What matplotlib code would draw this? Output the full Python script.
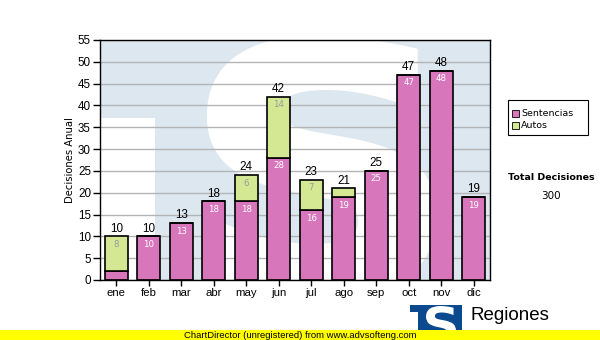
import matplotlib
matplotlib.use("Agg")
import matplotlib.pyplot as plt
from matplotlib.patches import Rectangle, PathPatch
from matplotlib.textpath import TextPath
from matplotlib.font_manager import FontProperties
from matplotlib.transforms import Affine2D

# ---- data ----
months = ["ene", "feb", "mar", "abr", "may", "jun", "jul", "ago", "sep", "oct", "nov", "dic"]
sentencias = [2, 10, 13, 18, 18, 28, 16, 19, 25, 47, 48, 19]
autos = [8, 0, 0, 0, 6, 14, 7, 2, 0, 0, 0, 0]
series_names = ["Sentencias", "Autos"]
yticks = list(range(0, 56, 5))
total_title = "Total Decisiones"

C_SENT = "#d776bb"
C_AUTO = "#d4e894"
C_BG = "#dde7f0"
C_GRID = "#b4b4b4"

W, H = 600, 340
fig = plt.figure(figsize=(6, 3.4), dpi=100)
fig.patch.set_facecolor("white")


def fx(px):
    return px / W


def fy(py):
    return 1 - py / H


ax = fig.add_axes([fx(100), fy(280), fx(490) - fx(100), fy(40) - fy(280)])
ax.set_facecolor(C_BG)
ax.set_xlim(-0.5, len(months) - 0.5)
ax.set_ylim(0, 55)
ax.set_axisbelow(True)

# watermark logo in the plot background: white cut under the T bar and a large white S
ax.add_patch(Rectangle((-0.5, 0), (155 - 100) / 32.5, 37.2, facecolor="white",
                       edgecolor="none", zorder=0.2))
sp = TextPath((0, 0), "S", size=1, prop=FontProperties(family="DejaVu Sans", weight="bold"))
ext = sp.get_extents()
x0, x1, ytop, ybot = 211, 432, 40, 294
tr = (Affine2D().translate(-ext.x0, -ext.y0)
      .scale((x1 - x0) / ext.width / W, (ybot - ytop) / ext.height / H)
      .translate(x0 / W, 1 - ybot / H)) + fig.transFigure
spatch = PathPatch(sp, facecolor="white", edgecolor="white", linewidth=6,
                   transform=tr, zorder=0.2)
ax.add_patch(spatch)
spatch.set_clip_path(ax.patch)

ax.yaxis.grid(True, color=C_GRID, linewidth=1.0, zorder=0.5)
ax.xaxis.grid(False)

x = list(range(len(months)))
totals = [s + a for s, a in zip(sentencias, autos)]
bw = 0.71
ax.bar(x, sentencias, width=bw, color=C_SENT, edgecolor="black", linewidth=1.2, zorder=2)
ax.bar(x, autos, width=bw, bottom=sentencias, color=C_AUTO, edgecolor="black",
       linewidth=1.2, zorder=2)

px_per_unit = 240 / 55.0
for i in x:
    ax.text(i, totals[i] + 1.8 / px_per_unit, str(totals[i]), ha="center", va="bottom",
            fontsize=8.4, family="Liberation Sans", color="black", zorder=3)
    if sentencias[i] > 3:
        ax.text(i, sentencias[i] - 3.5 / px_per_unit, str(sentencias[i]), ha="center",
                va="top", fontsize=6.2, family="DejaVu Sans", color="white", zorder=3)
    if autos[i] > 3:
        ax.text(i, totals[i] - 3.5 / px_per_unit, str(autos[i]), ha="center", va="top",
                fontsize=6.2, family="DejaVu Sans", color="#9a9a9a", zorder=3)

ax.set_xticks(x)
ax.set_xticklabels(months, fontsize=8.2, family="Liberation Sans")
ax.set_yticks(yticks)
ax.set_yticklabels([str(v) for v in yticks], fontsize=8.4, family="Liberation Sans")
ax.tick_params(axis="y", length=5, width=1, direction="out", pad=1.5)
ax.tick_params(axis="x", length=4, width=1, direction="out", pad=2)
for s in ax.spines.values():
    s.set_color("black")
    s.set_linewidth(1.0)
ax.set_ylabel("Decisiones Anual", fontsize=7.2, family="DejaVu Sans", labelpad=2)

# legend box
fig.add_artist(Rectangle((fx(508), fy(135)), fx(588) - fx(508), fy(100) - fy(135),
                         transform=fig.transFigure, facecolor="white", edgecolor="black",
                         linewidth=0.8))
for k, (name, col) in enumerate(zip(series_names, [C_SENT, C_AUTO])):
    yy = 113.5 + k * 12
    fig.add_artist(Rectangle((fx(512), fy(yy + 3.5)), 7 / W, 7 / H, transform=fig.transFigure,
                             facecolor=col, edgecolor="black", linewidth=0.6))
    fig.text(fx(521), fy(yy), name, fontsize=6.8, family="DejaVu Sans", va="center", ha="left")

fig.text(fx(551), fy(178), total_title, fontsize=6.8, family="DejaVu Sans", weight="bold",
         ha="center", va="center")
fig.text(fx(551), fy(196), str(sum(totals)), fontsize=7.5, family="DejaVu Sans",
         ha="center", va="center")

# footer: logo, name and banner
fig.add_artist(Rectangle((fx(410), fy(340)), 52 / W, 35 / H, transform=fig.transFigure,
                         facecolor="#0b4a8e", edgecolor="none"))
fig.add_artist(Rectangle((fx(410), fy(340)), 8 / W, 28 / H, transform=fig.transFigure,
                         facecolor="white", edgecolor="none"))
lp = TextPath((0, 0), "S", size=1, prop=FontProperties(family="DejaVu Sans", weight="bold"))
le = lp.get_extents()
ltr = (Affine2D().translate(-le.x0, -le.y0)
       .scale(30 / le.width / W, 36 / le.height / H)
       .translate(426 / W, 1 - 342 / H)) + fig.transFigure
fig.add_artist(PathPatch(lp, facecolor="white", edgecolor="none", transform=ltr))

fig.text(fx(470), fy(316), "Regiones", fontsize=13.5, family="Liberation Sans",
         ha="left", va="center")

fig.add_artist(Rectangle((0, 0), 1, fy(330), transform=fig.transFigure,
                         facecolor="#ffff00", edgecolor="none", zorder=5))
fig.text(fx(300), fy(335), "ChartDirector (unregistered) from www.advsofteng.com",
         fontsize=6.8, family="Liberation Sans", ha="center", va="center", zorder=6)

fig.savefig("out.png", dpi=100)
